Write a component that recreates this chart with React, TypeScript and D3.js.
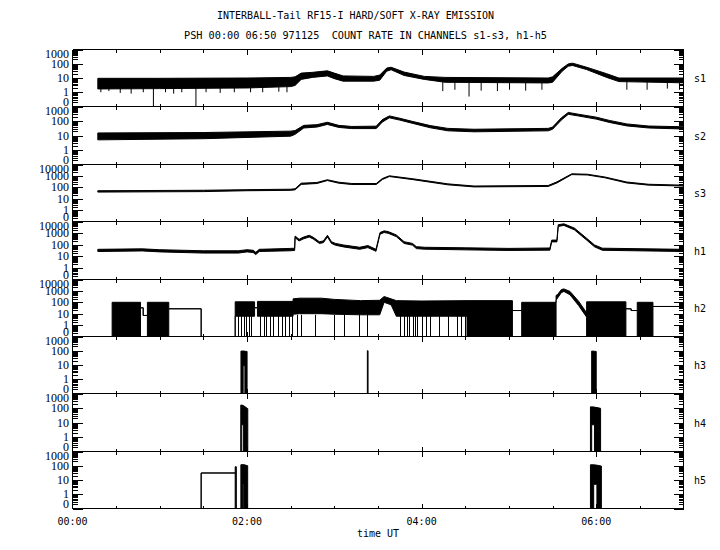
import React from 'react';
import * as d3 from 'd3';

// ---------- texts ----------
const title1 = 'INTERBALL-Tail RF15-I HARD/SOFT X-RAY EMISSION';
const title2 = 'PSH 00:00 06:50 971125  COUNT RATE IN CHANNELS s1-s3, h1-h5';
const xTitle = 'time UT';

// ---------- axes ----------
const channelNames = ['s1', 's2', 's3', 'h1', 'h2', 'h3', 'h4', 'h5'];
const channelTopDecade = [3, 3, 4, 4, 4, 3, 3, 3];
const xMajorHours = [2, 4, 6];
const xLabelHours = [0, 2, 4, 6];
const xLabels = ['00:00', '02:00', '04:00', '06:00'];
const xMinorHours = [0.5, 1, 1.5, 2.5, 3, 3.5, 4.5, 5, 5.5, 6.5];

// ---------- data (hours UT, count rate envelope low / high) ----------
const s1T = [0.29, 1.0, 2.0, 2.5, 2.55, 2.62, 2.75, 2.92, 3.0, 3.1, 3.45, 3.52, 3.6, 3.65, 3.8, 4.03, 4.27, 5.45, 5.5, 5.61, 5.68, 5.73, 5.89, 6.12, 6.26, 7.0];
const s1Lo = [1.7, 1.8, 2.0, 2.5, 3, 8, 11, 14, 9, 6, 6, 7, 30, 38, 15, 8, 5, 4.5, 5, 30, 68, 75, 39, 11, 5.6, 4.6];
const s1Hi = [9.5, 9.5, 10, 11, 12, 22, 25, 32, 22, 14, 13, 16, 50, 57, 26, 13, 11, 10, 12, 48, 98, 110, 57, 20, 10, 10];
const s1SpikeT = [0.325, 0.417, 0.547, 0.672, 0.811, 0.927, 1.066, 1.159, 1.252, 1.414, 1.53, 1.692, 1.854, 2.04, 2.179, 2.364, 2.457, 4.242, 4.381, 4.543, 4.682, 4.868, 5.007, 5.192, 5.378, 6.351, 6.583, 6.815, 6.954];
const s1SpikeV = [1, 1.2, 0.9, 0.8, 1, 0.1, 1, 0.8, 1, 0.1, 1, 0.9, 1, 1, 1, 1.1, 1, 1.2, 1.5, 0.5, 1.3, 1.2, 1.5, 1.3, 1.5, 1.5, 1.5, 1.8, 1.5];

const s2T = [0.29, 1.5, 2.5, 2.55, 2.65, 2.8, 2.92, 3.05, 3.2, 3.48, 3.55, 3.63, 3.75, 3.9, 4.1, 4.3, 4.6, 5.45, 5.5, 5.6, 5.68, 5.8, 6.0, 6.15, 6.35, 6.6, 7.0];
const s2Lo = [5, 6, 9, 12, 33, 38, 58, 36, 30, 30, 85, 165, 115, 68, 34, 21, 18, 21, 27, 115, 290, 220, 135, 80, 46, 33, 28];
const s2Hi = [15, 16, 20, 22, 50, 56, 82, 50, 42, 44, 125, 225, 155, 92, 48, 31, 27, 31, 38, 165, 390, 290, 185, 110, 63, 45, 40];

const s3T = [0.29, 1.5, 2.0, 2.5, 2.55, 2.62, 2.8, 2.92, 3.05, 3.2, 3.48, 3.55, 3.63, 3.9, 4.3, 4.6, 5.45, 5.55, 5.72, 5.9, 6.1, 6.35, 6.6, 7.0];
const s3Lo = [38, 42, 50, 54, 60, 180, 215, 390, 230, 175, 175, 480, 880, 470, 165, 108, 118, 240, 1300, 1200, 680, 240, 155, 128];
const s3Hi = [50, 55, 62, 68, 75, 230, 265, 460, 280, 215, 215, 590, 1020, 560, 200, 130, 145, 300, 1520, 1400, 800, 290, 185, 155];

const h1T = [0.29, 0.8, 1.0, 1.5, 1.9, 2.0, 2.07, 2.1, 2.14, 2.5, 2.545, 2.55, 2.596, 2.642, 2.712, 2.758, 2.828, 2.874, 2.921, 2.967, 3.013, 3.106, 3.29, 3.384, 3.477, 3.523, 3.57, 3.616, 3.709, 3.8, 3.894, 3.94, 4.033, 4.5, 5.0, 5.47, 5.49, 5.55, 5.565, 5.63, 5.75, 5.89, 5.98, 6.07, 7.0];
const h1Lo = [26, 29, 24, 19, 19, 24, 21, 14, 26, 30, 32, 400, 210, 310, 460, 310, 130, 150, 460, 130, 90, 64, 40, 56, 27, 800, 1120, 970, 500, 128, 92, 46, 41, 36, 32, 34, 175, 175, 3800, 4600, 1900, 250, 66, 33, 26];
const h1Hi = [40, 44, 37, 30, 30, 37, 33, 22, 40, 48, 50, 560, 290, 440, 650, 440, 180, 210, 650, 180, 130, 94, 60, 84, 40, 1120, 1560, 1360, 700, 180, 130, 68, 60, 54, 48, 52, 250, 250, 5300, 6300, 2700, 360, 96, 50, 40];

const h2T = [0.454, 0.454, 0.779, 0.779, 0.81, 0.81, 0.858, 0.858, 1.103, 1.103, 1.474, 1.474, 1.864, 1.864, 2.086, 2.086, 2.119, 2.119, 2.527, 2.527, 2.6, 2.85, 3.0, 3.3, 3.52, 3.57, 3.65, 3.71, 4.0, 4.52, 4.52, 5.04, 5.04, 5.146, 5.146, 5.54, 5.54, 5.56, 5.6, 5.63, 5.7, 5.8, 5.89, 5.89, 6.34, 6.34, 6.4, 6.4, 6.47, 6.47, 6.65, 6.65, 7.0];
const h2Hi = [0.1, 100, 100, 33, 33, 7, 7, 100, 100, 27, 27, 0.1, 0.1, 110, 110, 33, 33, 120, 120, 200, 230, 230, 180, 140, 150, 320, 200, 140, 130, 140, 140, 140, 19, 19, 100, 100, 400, 500, 1300, 1500, 900, 120, 12, 110, 110, 27, 27, 19, 19, 100, 100, 43, 43];
const h2Lo = [0.1, 0.1, 0.1, 33, 33, 7, 7, 0.1, 0.1, 27, 27, 0.1, 0.1, 6, 6, 33, 33, 6, 6, 9, 10, 10, 9, 8, 8, 100, 60, 6, 6, 6, 0.1, 0.1, 19, 19, 0.1, 0.1, 150, 250, 700, 900, 450, 50, 5, 0.1, 0.1, 27, 27, 19, 19, 0.1, 0.1, 43, 43];
const h2DropT = [1.9, 1.93, 1.96, 1.99, 2.02, 2.05, 2.15, 2.19, 2.22, 2.26, 2.3, 2.35, 2.4, 2.44, 2.48, 2.52, 2.57, 2.62, 2.78, 3.0, 3.11, 3.28, 3.37, 3.75, 3.8, 3.83, 3.86, 3.9, 3.92, 3.95, 4.0, 4.05, 4.1, 4.2, 4.3, 4.4, 4.45, 4.5];

const h3T = [1.93, 1.93, 1.955, 1.955, 1.975, 1.975, 2.0, 2.0, 3.378, 3.378, 3.386, 3.386, 5.948, 5.948, 6.0, 6.0];
const h3Hi = [0.1, 95, 95, 95, 95, 90, 90, 0.1, 0.1, 100, 100, 0.1, 0.1, 95, 90, 0.1];
const h3Lo = [0.1, 0.1, 0.1, 9, 9, 0.1, 0.1, 0.1, 0.1, 0.1, 0.1, 0.1, 0.1, 0.1, 0.1, 0.1];

const h4T = [1.928, 1.928, 1.934, 1.934, 1.956, 1.956, 2.008, 2.008, 5.934, 5.934, 5.948, 5.948, 5.98, 5.98, 6.05, 6.05];
const h4Hi = [0.1, 160, 160, 160, 150, 150, 90, 0.1, 0.1, 120, 120, 120, 115, 115, 95, 0.1];
const h4Lo = [0.1, 0.1, 0.1, 7, 7, 0.1, 0.1, 0.1, 0.1, 0.1, 0.1, 7, 7, 0.1, 0.1, 0.1];

const h5T = [1.474, 1.474, 1.864, 1.864, 1.877, 1.877, 1.929, 1.929, 1.947, 1.947, 1.961, 1.961, 2.007, 2.007, 5.934, 5.934, 5.971, 5.971, 6.008, 6.008, 6.059, 6.059];
const h5Hi = [0.1, 31, 31, 85, 85, 0.1, 0.1, 117, 120, 120, 120, 120, 100, 0.1, 0.1, 117, 117, 117, 110, 110, 95, 0.1];
const h5Lo = [0.1, 31, 31, 0.1, 0.1, 0.1, 0.1, 0.1, 0.1, 5, 5, 0.1, 0.1, 0.1, 0.1, 0.1, 0.1, 5, 5, 0.1, 0.1, 0.1];

const bands = [
  { T: s1T, lo: s1Lo, hi: s1Hi },
  { T: s2T, lo: s2Lo, hi: s2Hi },
  { T: s3T, lo: s3Lo, hi: s3Hi },
  { T: h1T, lo: h1Lo, hi: h1Hi },
  { T: h2T, lo: h2Lo, hi: h2Hi },
  { T: h3T, lo: h3Lo, hi: h3Hi },
  { T: h4T, lo: h4Lo, hi: h4Hi },
  { T: h5T, lo: h5Lo, hi: h5Hi },
];

// ---------- layout ----------
const W = 720;
const H = 550;
const X0 = 72.5;
const X1 = 683.5;
const TOP = 49;
const BOTTOM = 508;

export default function App() {
  const ph = (BOTTOM - TOP) / channelNames.length;
  const x = d3.scaleLinear().domain([0, 7]).range([X0, X1]);
  const panels = channelNames.map((name, i) => {
    const y0 = Math.round(TOP + i * ph) + 0.5;
    const y1 = Math.round(TOP + (i + 1) * ph) + 0.5;
    const y = d3
      .scaleLog()
      .domain([0.1, Math.pow(10, channelTopDecade[i])])
      .range([y1, y0])
      .clamp(true);
    return { name, i, y0, y1, y };
  });

  const mono = "'DejaVu Sans Mono', monospace";
  const serif = "'Liberation Serif', 'DejaVu Serif', serif";

  return (
    <svg
      width={W}
      height={H}
      viewBox={`0 0 ${W} ${H}`}
      style={{ display: 'block', position: 'absolute', left: 0, top: 0, background: '#fff' }}
    >
      <rect x={0} y={0} width={W} height={H} fill="#fff" />
      <g opacity={0.999}>
        <text x={217} y={18.5} fill="#000" fontFamily={mono} fontSize={10} textLength={277} lengthAdjust="spacingAndGlyphs">
          {title1}
        </text>
        <text x={184} y={39} fill="#000" fontFamily={mono} fontSize={10} textLength={363} lengthAdjust="spacingAndGlyphs" style={{ whiteSpace: 'pre' }}>
          {title2}
        </text>
      </g>

      {panels.map((p) => {
        const b = bands[p.i];
        const pts = b.T.map((t, k) => ({ t, lo: b.lo[k], hi: b.hi[k] }));
        const area = d3
          .area<{ t: number; lo: number; hi: number }>()
          .x((d) => x(d.t))
          .y0((d) => p.y(d.lo))
          .y1((d) => p.y(d.hi));
        const topExp = channelTopDecade[p.i];
        const majors = d3.range(-1, topExp + 1).map((k) => Math.pow(10, k));
        const minors: number[] = [];
        for (let k = -1; k < topExp; k++) for (let m = 2; m <= 9; m++) minors.push(m * Math.pow(10, k));
        const labelY = (v: number) => Math.min(Math.max(p.y(v), p.y0 + 4), p.y1 - 4.5);
        const loInterp = d3.scaleLinear().domain(b.T).range(b.lo).clamp(true);
        return (
          <g key={p.name}>
            <path d={area(pts) || ''} fill="#000" stroke="#000" strokeWidth={1} strokeLinejoin="miter" />
            {p.i === 0 &&
              s1SpikeT.map((t, k) => (
                <line key={'sp' + k} x1={x(t)} x2={x(t)} y1={p.y(s1SpikeV[k])} y2={p.y(loInterp(t) * 1.2)} stroke="#000" strokeWidth={1} />
              ))}
            {p.i === 4 &&
              h2DropT.map((t, k) => (
                <line key={'dr' + k} x1={Math.round(x(t)) + 0.5} x2={Math.round(x(t)) + 0.5} y1={p.y1} y2={p.y(8)} stroke="#000" strokeWidth={1} />
              ))}
            <line x1={X0} x2={X1} y1={p.y0} y2={p.y0} stroke="#000" shapeRendering="crispEdges" />
            {majors.map((v) => (
              <g key={'M' + v}>
                <line x1={X0} x2={X0 + 10} y1={Math.round(p.y(v)) + 0.5} y2={Math.round(p.y(v)) + 0.5} stroke="#000" shapeRendering="crispEdges" />
                <line x1={X1} x2={X1 - 10} y1={Math.round(p.y(v)) + 0.5} y2={Math.round(p.y(v)) + 0.5} stroke="#000" shapeRendering="crispEdges" />
              </g>
            ))}
            {minors.map((v) => (
              <g key={'m' + v}>
                <line x1={X0} x2={X0 + 5} y1={Math.round(p.y(v)) + 0.5} y2={Math.round(p.y(v)) + 0.5} stroke="#000" shapeRendering="crispEdges" />
                <line x1={X1} x2={X1 - 5} y1={Math.round(p.y(v)) + 0.5} y2={Math.round(p.y(v)) + 0.5} stroke="#000" shapeRendering="crispEdges" />
              </g>
            ))}
            {xMinorHours.map((h) => (
              <g key={'xm' + h}>
                <line x1={Math.round(x(h)) + 0.5} x2={Math.round(x(h)) + 0.5} y1={p.y0} y2={p.y0 + 3} stroke="#000" shapeRendering="crispEdges" />
                <line x1={Math.round(x(h)) + 0.5} x2={Math.round(x(h)) + 0.5} y1={p.y1} y2={p.y1 - 3} stroke="#000" shapeRendering="crispEdges" />
              </g>
            ))}
            {xMajorHours.map((h) => (
              <g key={'xM' + h}>
                <line x1={Math.round(x(h)) + 0.5} x2={Math.round(x(h)) + 0.5} y1={p.y0} y2={p.y0 + 5} stroke="#000" shapeRendering="crispEdges" />
                <line x1={Math.round(x(h)) + 0.5} x2={Math.round(x(h)) + 0.5} y1={p.y1} y2={p.y1 - 5} stroke="#000" shapeRendering="crispEdges" />
              </g>
            ))}
            <g opacity={0.999}>
              {majors.map((v) => (
                <text key={'l' + v} x={69} y={labelY(v) + 4} fill="#000" textAnchor="end" fontFamily={serif} fontSize={12}>
                  {v < 1 ? '0' : String(v)}
                </text>
              ))}
              <text x={694} y={(p.y0 + p.y1) / 2 + 4} fill="#000" fontFamily={mono} fontSize={10}>
                {p.name}
              </text>
            </g>
          </g>
        );
      })}

      <line x1={X0} x2={X0} y1={TOP + 0.5} y2={BOTTOM + 0.5} stroke="#000" shapeRendering="crispEdges" />
      <line x1={X1} x2={X1} y1={TOP + 0.5} y2={BOTTOM + 0.5} stroke="#000" shapeRendering="crispEdges" />
      <line x1={X0} x2={X1} y1={BOTTOM + 0.5} y2={BOTTOM + 0.5} stroke="#000" shapeRendering="crispEdges" />

      <g opacity={0.999}>
        {xLabelHours.map((h, k) => (
          <text key={'xl' + h} x={x(h)} y={525} fill="#000" textAnchor="middle" fontFamily={mono} fontSize={10}>
            {xLabels[k]}
          </text>
        ))}
        <text x={(X0 + X1) / 2} y={537} fill="#000" textAnchor="middle" fontFamily={mono} fontSize={10}>
          {xTitle}
        </text>
      </g>
    </svg>
  );
}
